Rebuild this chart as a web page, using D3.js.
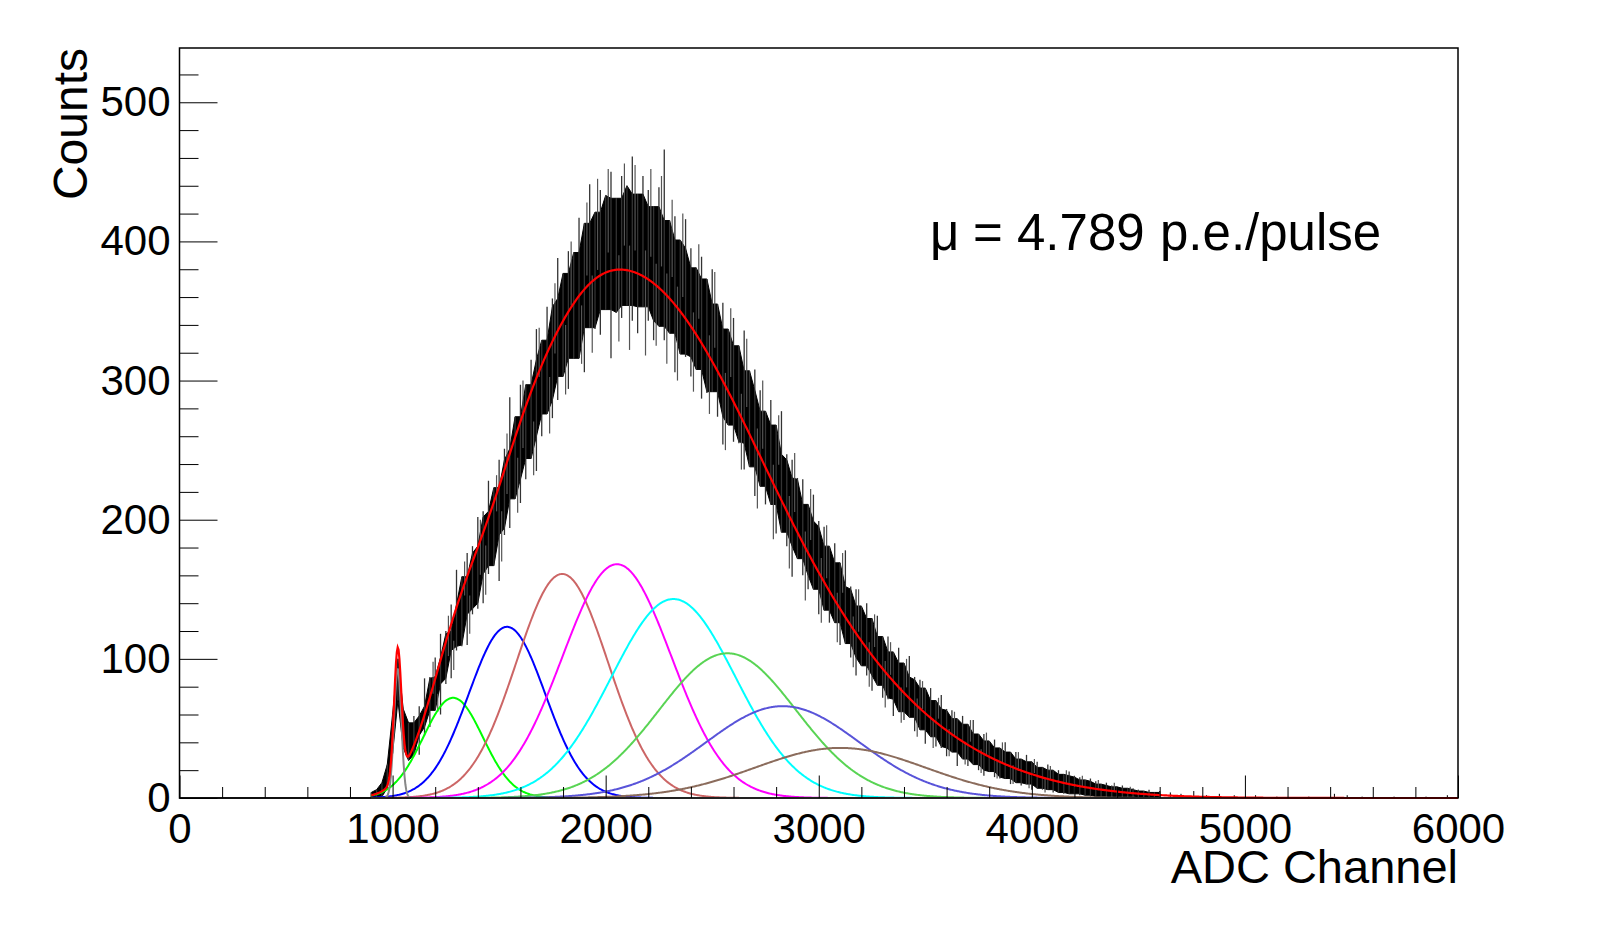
<!DOCTYPE html>
<html>
<head>
<meta charset="utf-8">
<script src="https://cdn.jsdelivr.net/npm/d3@7/dist/d3.min.js"></script>
<style>
  body { margin: 0; background: #fff; }
  svg { display: block; }
</style>
</head>
<body>
<svg id="chart" width="1598" height="941"></svg>
<script>
// ---- data ----
var xTicks = [0, 1000, 2000, 3000, 4000, 5000, 6000];
var yTicks = [0, 100, 200, 300, 400, 500];

// histogram band: upper / lower edge of the black band, every 25 ADC from 900 to 4600
var bandStart = 900, bandStep = 25;
var bandHi = [4,6,11,24,60,100,64,54,59,66,86,87,101,118,120,139,164,159,176,181,
  202,206,228,223,243,251,288,274,297,297,315,337,329,353,359,388,377,393,392,417,
  413,441,421,437,433,450,431,447,440,461,434,447,437,425,439,466,415,418,401,416,
  395,381,389,373,380,355,356,337,345,325,336,307,308,293,278,286,268,278,247,243,
  230,229,211,218,199,195,181,183,169,178,152,150,138,140,129,131,116,116,105,108,
  97,102,87,85,79,79,70,74,64,63,57,59,53,56,46,46,41,42,36,40,
  33,33,28,31,26,26,22,24,20,20,17,19,16,15,13,14,12,10,11,9,
  8,9,7,7,6,5,6,4,5];
var bandLo = [0,0,1,7,32,70,36,27,30,31,45,51,63,60,82,86,106,109,110,132,
  136,140,161,167,156,189,194,215,212,229,244,235,260,276,273,286,303,294,316,316,
  306,338,337,333,351,316,349,345,354,343,334,353,343,329,339,329,334,306,319,317,
  303,308,287,291,292,274,254,268,256,255,236,238,217,224,211,211,190,191,181,159,
  172,160,150,150,132,135,126,126,110,111,101,88,95,88,77,81,72,71,59,62,
  56,58,48,49,39,44,37,36,30,33,23,28,23,24,20,16,19,15,14,14,
  10,11,9,10,6,7,6,6,4,4,3,3,3,2,2,1,1,1,1,0,
  0,0,0,0,0,0,0,0,0];
var pedestalEnd = 1075;   // up to here the band follows its edges exactly

// single-bin spikes sticking out of the band
var spikeUpAdc = [1190,1262,1338,1412,1488,1537,1612,1688,1762,1838,1912,1962,2012,2088,2138,2212,2262,2312,2362,2437,
  2512,2587,2662,2737,2812,2887,2962,3037,3112,3187,3262,3337,3412,3487,3562,3637,3712,3787,3862,3937,
  4012,4087,4162,4237,4312,4387,4462];
var spikeUpVal = [98,131,170,200,232,262,300,338,370,400,428,445,452,456,455,452,447,430,420,398,
  378,352,330,300,275,248,222,196,176,150,132,112,100,84,72,62,56,47,40,33,
  28,23,20,16,13,11,8];
var spikeDnAdc = [1212,1287,1362,1437,1512,1587,1662,1737,1812,1887,1937,2062,2112,2187,2237,2287,2337,2412,2487,2562,
  2637,2712,2787,2862,2937,3012,3087,3162,3237,3312,3387,3462,3537,3612,3687,3762,3837,3912,3987,4062];
var spikeDnVal = [62,92,118,146,170,205,232,262,290,312,320,328,322,318,325,312,300,292,276,250,
  236,208,186,165,142,126,112,94,80,65,54,44,36,30,24,18,14,10,7,4];

// sparse counts in the far tail
var tailAdc = [4650, 4700, 4760, 4820, 4880, 4950, 5050, 5150, 5300, 5420, 5480, 5550, 5700, 5850, 5950];
var tailVal = [4, 3, 5, 2, 3, 2, 2, 1, 1, 3, 2, 1, 1, 1, 2];

// pedestal gaussian
var pedMean = 1024, pedSigma = 17, pedAmp = 93;

// n p.e. gaussians (n = 1..8)
var peMean  = [1284, 1537, 1796, 2053, 2318, 2572, 2831, 3101];
var peSigma = [140, 180, 215, 255, 292, 322, 360, 400];
var peAmp   = [72, 123, 161, 168, 143, 104, 66, 36];
var peColor = ["#00ff00", "#0000ff", "#cc6666", "#ff00ff", "#00ffff", "#59d454", "#5954d9", "#8b6c5c"];

// higher terms that are only in the total fit (n = 9..11)
var extraMean  = [3361, 3620, 3880];
var extraSigma = [430, 460, 490];
var extraAmp   = [17, 7.5, 3];

var fitRange = [900, 6000];

// ---- layout ----
var frameL = 179.5, frameR = 1458, frameT = 48, frameB = 798;
var svg = d3.select("#chart");
var font = "'Liberation Sans', Arial, Helvetica, sans-serif";

var x = d3.scaleLinear().domain([0, 6000]).range([frameL, frameR]);
var y = d3.scaleLinear().domain([0, 539]).range([frameB, frameT]);

function gaus(v, m, s, a) {
  var z = (v - m) / s;
  return a * Math.exp(-0.5 * z * z);
}

var samples = d3.range(fitRange[0], fitRange[1] + 1, 4);
var line = d3.line().x(function(d) { return x(d[0]); }).y(function(d) { return y(d[1]); });

var plot = svg.append("g");

// histogram
plot.append("line")
  .attr("x1", x(0)).attr("x2", x(6000))
  .attr("y1", y(0)).attr("y2", y(0))
  .attr("stroke", "#000").attr("stroke-width", 1.5);

var band = bandHi.map(function(h, i) {
  // solid core = tightest of the neighbouring edges, the rest is drawn as thin spikes
  var adc = bandStart + i * bandStep;
  var hs = bandHi.slice(Math.max(0, i - 1), i + 2), ls = bandLo.slice(Math.max(0, i - 1), i + 2);
  var raw = adc <= pedestalEnd;
  return { adc: adc, hi: h, lo: bandLo[i],
           coreHi: raw ? h : d3.min(hs), coreLo: raw ? bandLo[i] : d3.max(ls) };
});
var area = d3.area()
  .x(function(d) { return x(d.adc); })
  .y0(function(d) { return y(d.coreLo); })
  .y1(function(d) { return y(d.coreHi); });
plot.append("path").datum(band)
  .attr("d", area)
  .attr("fill", "#000")
  .attr("stroke", "#000").attr("stroke-width", 1);

plot.selectAll(".edge").data(band).enter().append("line")
  .attr("x1", function(d) { return x(d.adc); }).attr("x2", function(d) { return x(d.adc); })
  .attr("y1", function(d) { return y(d.hi); }).attr("y2", function(d) { return y(d.lo); })
  .attr("stroke", "#333").attr("stroke-width", 1.3);

function midAt(adc) {
  var i = Math.min(band.length - 1, Math.max(0, Math.round((adc - bandStart) / bandStep)));
  return (band[i].coreHi + band[i].coreLo) / 2;
}
plot.selectAll(".sup").data(spikeUpAdc).enter().append("line")
  .attr("x1", function(d) { return x(d); }).attr("x2", function(d) { return x(d); })
  .attr("y1", function(d, i) { return y(spikeUpVal[i]); }).attr("y2", function(d) { return y(midAt(d)); })
  .attr("stroke", "#555").attr("stroke-width", 1.2);
plot.selectAll(".sdn").data(spikeDnAdc).enter().append("line")
  .attr("x1", function(d) { return x(d); }).attr("x2", function(d) { return x(d); })
  .attr("y1", function(d, i) { return y(spikeDnVal[i]); }).attr("y2", function(d) { return y(midAt(d)); })
  .attr("stroke", "#555").attr("stroke-width", 1.2);

plot.selectAll(".tail").data(tailAdc).enter().append("line")
  .attr("x1", function(d) { return x(d); }).attr("x2", function(d) { return x(d); })
  .attr("y1", y(0)).attr("y2", function(d, i) { return y(tailVal[i]); })
  .attr("stroke", "#000").attr("stroke-width", 1);

// single p.e. components
peMean.forEach(function(m, i) {
  var pts = samples.map(function(v) { return [v, gaus(v, m, peSigma[i], peAmp[i])]; });
  plot.append("path").datum(pts)
    .attr("d", line).attr("fill", "none")
    .attr("stroke", peColor[i]).attr("stroke-width", 2);
});

// pedestal
var pedPts = samples.map(function(v) { return [v, gaus(v, pedMean, pedSigma, pedAmp)]; });
plot.append("path").datum(pedPts)
  .attr("d", line).attr("fill", "none")
  .attr("stroke", "#888").attr("stroke-width", 2);

// total fit
var means = [pedMean].concat(peMean, extraMean);
var sigmas = [pedSigma].concat(peSigma, extraSigma);
var amps = [pedAmp].concat(peAmp, extraAmp);
var totPts = samples.map(function(v) {
  var s = 0;
  for (var k = 0; k < means.length; k++) s += gaus(v, means[k], sigmas[k], amps[k]);
  return [v, s];
});
plot.append("path").datum(totPts)
  .attr("d", line).attr("fill", "none")
  .attr("stroke", "#ff0000").attr("stroke-width", 2.2);

// ---- axes ----
var yMinor = d3.range(0, 540, 20).filter(function(v) { return v % 100 !== 0; });
var xMinor = d3.range(0, 6001, 200).filter(function(v) { return v % 1000 !== 0; });

var gy = svg.append("g").attr("transform", "translate(" + frameL + ",0)")
  .call(d3.axisLeft(y).tickValues(yTicks).tickSize(-38).tickPadding(9).tickFormat(d3.format("d")));
var gyMinor = svg.append("g").attr("transform", "translate(" + frameL + ",0)")
  .call(d3.axisLeft(y).tickValues(yMinor).tickSize(-19).tickFormat(""));
var gx = svg.append("g").attr("transform", "translate(0," + frameB + ")")
  .call(d3.axisBottom(x).tickValues(xTicks).tickSize(-22.5).tickPadding(15).tickFormat(d3.format("d")));
var gxMinor = svg.append("g").attr("transform", "translate(0," + frameB + ")")
  .call(d3.axisBottom(x).tickValues(xMinor).tickSize(-11).tickFormat(""));

[gy, gyMinor, gx, gxMinor].forEach(function(g) {
  g.select(".domain").remove();
  g.selectAll(".tick line").attr("stroke", "#000").attr("stroke-width", 1);
  g.selectAll("text").attr("font-family", font).attr("font-size", 42).attr("fill", "#000");
});

// frame
svg.append("rect")
  .attr("x", frameL).attr("y", frameT)
  .attr("width", frameR - frameL).attr("height", frameB - frameT)
  .attr("fill", "none").attr("stroke", "#000").attr("stroke-width", 1.5);

// titles
svg.append("text")
  .attr("transform", "translate(87," + frameT + ") rotate(-90)")
  .attr("text-anchor", "end")
  .attr("font-family", font).attr("font-size", 48)
  .text("Counts");

svg.append("text")
  .attr("x", frameR).attr("y", 883)
  .attr("text-anchor", "end")
  .attr("font-family", font).attr("font-size", 47)
  .text("ADC Channel");

var mu = svg.append("text")
  .attr("y", 250)
  .attr("font-family", font).attr("font-size", 51);
mu.append("tspan").attr("x", 930).text("\u03bc");
mu.append("tspan").attr("x", 973).text("=");
mu.append("tspan").attr("x", 1017).text("4.789");
mu.append("tspan").attr("x", 1160).text("p.e./pulse");
</script>
</body>
</html>
